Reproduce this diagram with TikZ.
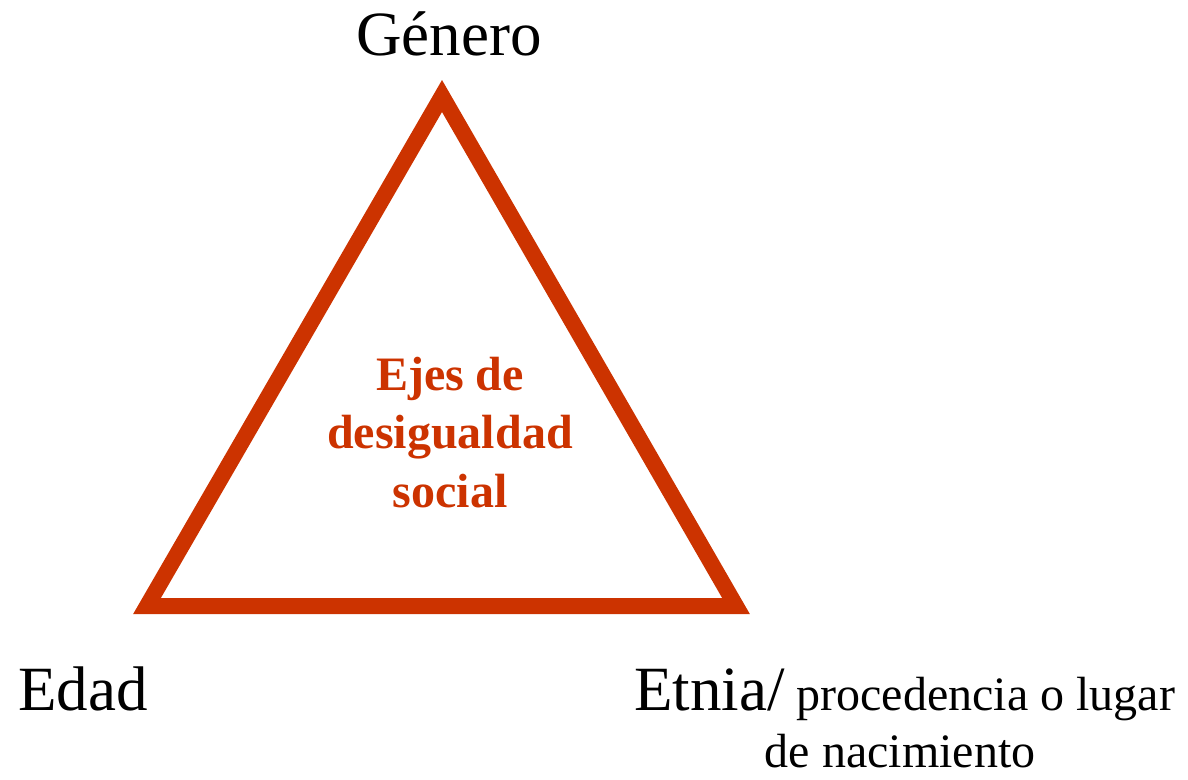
\documentclass[tikz,border=0pt]{standalone}
\usepackage{fontspec}
\setmainfont{Liberation Serif}
\definecolor{ejered}{HTML}{CC3300}
\begin{document}
\begin{tikzpicture}[x=1pt,y=-1pt,
  tri/.style={draw=ejered,line width=16pt,line join=miter},
  biglabel/.style={anchor=base,inner sep=0pt,font=\fontsize{63}{70}\selectfont,text=black},
  smalllabel/.style={anchor=base,inner sep=0pt,font=\fontsize{48}{56}\selectfont,text=black},
  centertext/.style={anchor=base,inner sep=0pt,font=\fontsize{48}{58}\selectfont\bfseries,text=ejered}]
\useasboundingbox (0,0) rectangle (1188,779);
\coordinate (top) at (442,96);
\coordinate (bl) at (147,606);
\coordinate (br) at (736,606);
\draw[tri] (top) -- (bl) -- (br) -- cycle;
\node[centertext] (c1) at (450,390) {Ejes de};
\node[centertext] (c2) at (450,448) {desigualdad};
\node[centertext] (c3) at (450,507) {social};
\node[biglabel] (genero) at (449,55) {Género};
\node[biglabel,anchor=base west] (edad) at (18,710) {Edad};
\node[biglabel,anchor=base west] (etnia) at (634,710) {Etnia/\fontsize{48}{56}\selectfont\ procedencia o lugar};
\node[smalllabel] (nac) at (900,767) {de nacimiento};
\end{tikzpicture}
\end{document}
